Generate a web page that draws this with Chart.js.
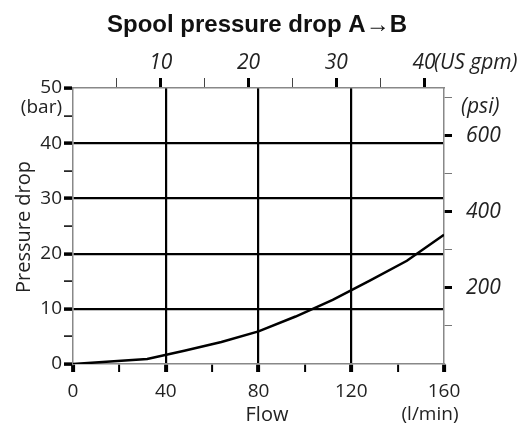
<!DOCTYPE html>
<html>
<head>
<meta charset="utf-8">
<script src="https://cdn.jsdelivr.net/npm/chart.js@4/dist/chart.umd.min.js"></script>
<style>
  html, body { margin: 0; padding: 0; background: #fff; }
  #wrap { width: 528px; height: 425px; }
</style>
</head>
<body>
<div id="wrap"><canvas id="dropChart" width="528" height="425"></canvas></div>
<script>
// flow (l/min) vs pressure drop (bar)
const flow = [0, 32, 48, 64, 80, 96, 112, 128, 144, 160];
const drop = [0, 0.9, 2.4, 4.0, 5.9, 8.6, 11.6, 15.1, 18.7, 23.4];

// tick positions for the four axes
const flowTicks = [0, 20, 40, 60, 80, 100, 120, 140, 160];
const barTicks = [0, 5, 10, 15, 20, 25, 30, 35, 40, 45, 50];
const gpmTicks = [5, 10, 15, 20, 25, 30, 35, 40];
const psiTicks = [100, 200, 300, 400, 500, 600, 700];

const LPM_PER_GPM = 3.785;
const PSI_PER_BAR = 14.5038;
const FLOW_MAX = 160;
const BAR_MAX = 50;

const FONT = "'Open Sans', sans-serif";
Chart.defaults.font.family = FONT;
Chart.defaults.color = '#222';

const fixTicks = list => scale => { scale.ticks = list.map(v => ({ value: v })); };
const isMajor = step => ctx => ctx.tick && ctx.tick.value % step === 0;

// unit captions, axis names and title
const captions = {
  id: 'captions',
  afterDraw(chart) {
    const c = chart.ctx;
    c.save();
    c.fillStyle = '#111';
    c.font = "bold 24px 'Liberation Sans', Arial, sans-serif";
    c.textAlign = 'center';
    c.textBaseline = 'alphabetic';
    c.fillText('Spool pressure drop A\u2192B', 257, 32);

    c.fillStyle = '#222';
    c.font = '19px ' + FONT;
    c.textBaseline = 'middle';
    c.textAlign = 'right';
    c.fillText('(bar)', 62, 108);

    c.font = '20px ' + FONT;
    c.textAlign = 'center';
    c.textBaseline = 'alphabetic';
    c.fillText('Flow', 267, 421);
    c.font = '19px ' + FONT;
    c.fillText('(l/min)', 430, 420);

    c.font = 'italic 21px ' + FONT;
    c.textAlign = 'left';
    c.textBaseline = 'middle';
    c.fillText('(psi)', 461, 107);
    c.fillText('(US gpm)', 434, 63);

    c.font = '20px ' + FONT;
    c.translate(30, 227);
    c.rotate(-Math.PI / 2);
    c.textAlign = 'center';
    c.textBaseline = 'alphabetic';
    c.fillText('Pressure drop', 0, 0);
    c.restore();
  }
};

new Chart(document.getElementById('dropChart'), {
  type: 'line',
  data: {
    datasets: [{
      data: flow.map((f, i) => ({ x: f, y: drop[i] })),
      borderColor: '#000',
      borderWidth: 2.5,
      pointRadius: 0,
      tension: 0,
      fill: false,
      xAxisID: 'x',
      yAxisID: 'y'
    }]
  },
  options: {
    responsive: false,
    animation: false,
    layout: { padding: 0 },
    plugins: { legend: { display: false }, tooltip: { enabled: false }, title: { display: false } },
    scales: {
      x: {
        type: 'linear', position: 'bottom', min: 0, max: FLOW_MAX,
        afterBuildTicks: fixTicks(flowTicks),
        afterFit: s => { s.height = 61; },
        border: { display: true, color: '#888', width: 1.5 },
        grid: {
          drawOnChartArea: true,
          color: ctx => (ctx.tick && ctx.tick.value % 40 === 0 && ctx.tick.value > 0 && ctx.tick.value < FLOW_MAX) ? '#000' : 'rgba(0,0,0,0)',
          lineWidth: 2.2,
          tickColor: '#000',
          tickWidth: ctx => isMajor(40)(ctx) ? 4 : 2,
          tickLength: 8
        },
        ticks: {
          autoSkip: false, maxRotation: 0, padding: 8,
          font: { size: 19 },
          callback: v => (v % 40 === 0 ? v : '')
        }
      },
      xTop: {
        type: 'linear', position: 'top', min: 0, max: FLOW_MAX / LPM_PER_GPM,
        afterBuildTicks: fixTicks(gpmTicks),
        afterFit: s => { s.height = 88; },
        border: { display: true, color: '#888', width: 1.5 },
        grid: {
          drawOnChartArea: false,
          tickColor: ctx => isMajor(10)(ctx) ? '#000' : '#444',
          tickWidth: ctx => isMajor(10)(ctx) ? 3 : 1,
          tickLength: 10
        },
        ticks: {
          autoSkip: false, maxRotation: 0, padding: 2,
          font: { size: 21, style: 'italic' },
          callback: v => (v % 10 === 0 ? v : '')
        }
      },
      y: {
        type: 'linear', position: 'left', min: 0, max: BAR_MAX,
        afterBuildTicks: fixTicks(barTicks),
        afterFit: s => { s.width = 73; },
        border: { display: true, color: '#888', width: 1.5 },
        grid: {
          drawOnChartArea: true,
          color: ctx => (ctx.tick && ctx.tick.value % 10 === 0 && ctx.tick.value > 0 && ctx.tick.value < BAR_MAX) ? '#000' : 'rgba(0,0,0,0)',
          lineWidth: 2.2,
          tickColor: '#000',
          tickWidth: ctx => isMajor(10)(ctx) ? 3.5 : 1.5,
          tickLength: 9
        },
        ticks: {
          autoSkip: false, padding: 2,
          font: { size: 19 },
          callback: v => (v % 10 === 0 ? v : '')
        }
      },
      yPsi: {
        type: 'linear', position: 'right', min: 0, max: BAR_MAX * PSI_PER_BAR,
        afterBuildTicks: fixTicks(psiTicks),
        afterFit: s => { s.width = 84; },
        border: { display: true, color: '#888', width: 1.5 },
        grid: {
          drawOnChartArea: false,
          tickColor: ctx => isMajor(200)(ctx) ? '#000' : '#777',
          tickWidth: ctx => isMajor(200)(ctx) ? 3 : 1,
          tickLength: 8
        },
        ticks: {
          autoSkip: false, padding: 14,
          font: { size: 21, style: 'italic' },
          callback: v => (v % 200 === 0 ? v : '')
        }
      }
    }
  },
  plugins: [captions]
});
</script>
</body>
</html>
